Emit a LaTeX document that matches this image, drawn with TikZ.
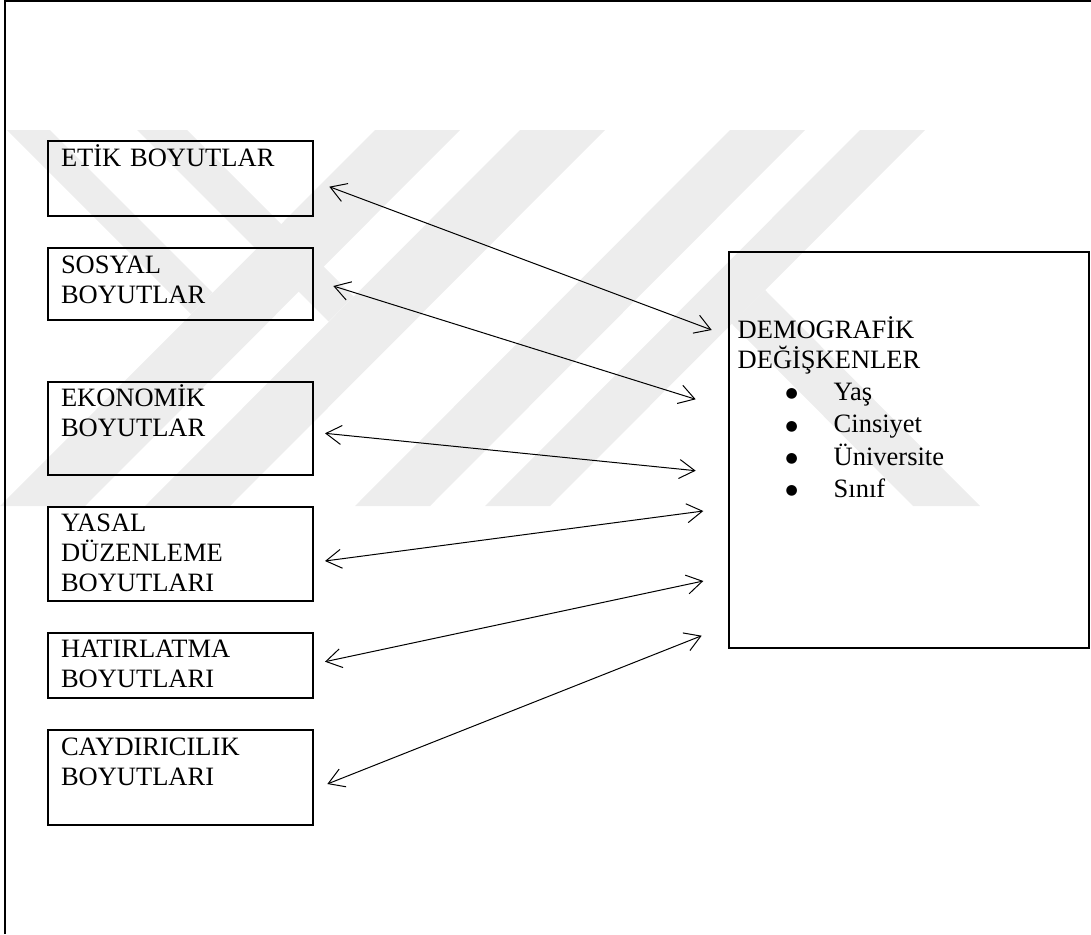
\documentclass[tikz,border=0pt]{standalone}
\usepackage{fontspec}
\setmainfont{Liberation Serif}
\newfontfamily\isaret{DejaVu Sans}
\usetikzlibrary{arrows.meta}

\newcommand{\madde}[1]{\makebox[96pt][l]{\hspace*{48pt}\raisebox{2.5pt}{\isaret\fontsize{14}{14}\selectfont ●}}#1}

\tikzset{
	boyut/.style={draw, line width=1.8pt, outer sep=0pt, anchor=north west, align=left,
		text width=239pt, inner xsep=13pt, inner ysep=5pt, text height=20pt},
	demog/.style={draw, line width=1.8pt, outer sep=0pt, anchor=north west, align=left,
		text width=342.6pt, inner xsep=9pt, inner ysep=5pt, text height=81.6pt, text depth=305pt},
	baglanti/.style={>={Straight Barb[length=15.5pt,width=19pt]}, <->, line width=1pt},
	filigran/.style={fill=black!7, draw=none}
}

\begin{document}
\begin{tikzpicture}[x=1pt, y=-1pt, font=\fontsize{26.5}{30}\selectfont]
		\useasboundingbox (0,0) rectangle (1091,934);

		% background watermark
		\fill[filigran] (375,130) -- (460,130) -- (85,506) -- (0,506) -- cycle;
		\fill[filigran] (520,130) -- (605,130) -- (230,506) -- (145,506) -- cycle;
		\fill[filigran] (730,130) -- (805,130) -- (430,506) -- (355,506) -- cycle;
		\fill[filigran] (860,130) -- (925,130) -- (550,506) -- (485,506) -- cycle;
		\fill[filigran] (7,130) -- (50,130) -- (212.5,292.5) -- (191,314) -- cycle;
		\fill[filigran] (137,130) -- (187,130) -- (353.5,296.5) -- (328.5,321.5) -- cycle;
		\fill[filigran] (765,290) -- (980,506) -- (913,506) -- (731.5,323.5) -- cycle;

		\draw[line width=2pt] (5,934) -- (5,1) -- (1091,1);

		\node[boyut, text depth=45pt] (etik) at (48,141) {ETİK BOYUTLAR};
		\node[boyut, text depth=42pt] (sosyal) at (48,248) {SOSYAL\\BOYUTLAR};
		\node[boyut, text depth=63pt] (ekonomik) at (48,381.7) {EKONOMİK\\BOYUTLAR};
		\node[boyut, text depth=64pt] (yasal) at (48,506.7) {YASAL\\DÜZENLEME\\BOYUTLARI};
		\node[boyut, text depth=35pt] (hatirlatma) at (48,632.7) {HATIRLATMA\\BOYUTLARI};
		\node[boyut, text depth=65pt] (caydiricilik) at (48,730) {CAYDIRICILIK\\BOYUTLARI};

		\node[demog] (demo) at (728.7,251.7) {DEMOGRAFİK\\DEĞİŞKENLER\\[1.7pt]
			\madde{Yaş}\\[2.5pt]\madde{Cinsiyet}\\[2.5pt]\madde{Üniversite}\\[2pt]\madde{Sınıf}};

		\begin{scope}[baglanti]
			\draw ([shift={(16.3,8.2)}]etik.east) -- ([shift={(-17,-120)}]demo.west);
			\draw ([shift={(20.3,2)}]sosyal.east) -- ([shift={(-33,-50.7)}]demo.west);
			\draw ([shift={(12,5.1)}]ekonomik.east) -- ([shift={(-33,20.7)}]demo.west);
			\draw ([shift={(12,7.3)}]yasal.east) -- ([shift={(-25.4,61)}]demo.west);
			\draw ([shift={(12,-3.5)}]hatirlatma.east) -- ([shift={(-25.4,131)}]demo.west);
			\draw ([shift={(14.3,6.5)}]caydiricilik.east) -- ([shift={(-27,185.7)}]demo.west);
		\end{scope}
	\end{tikzpicture}
\end{document}
